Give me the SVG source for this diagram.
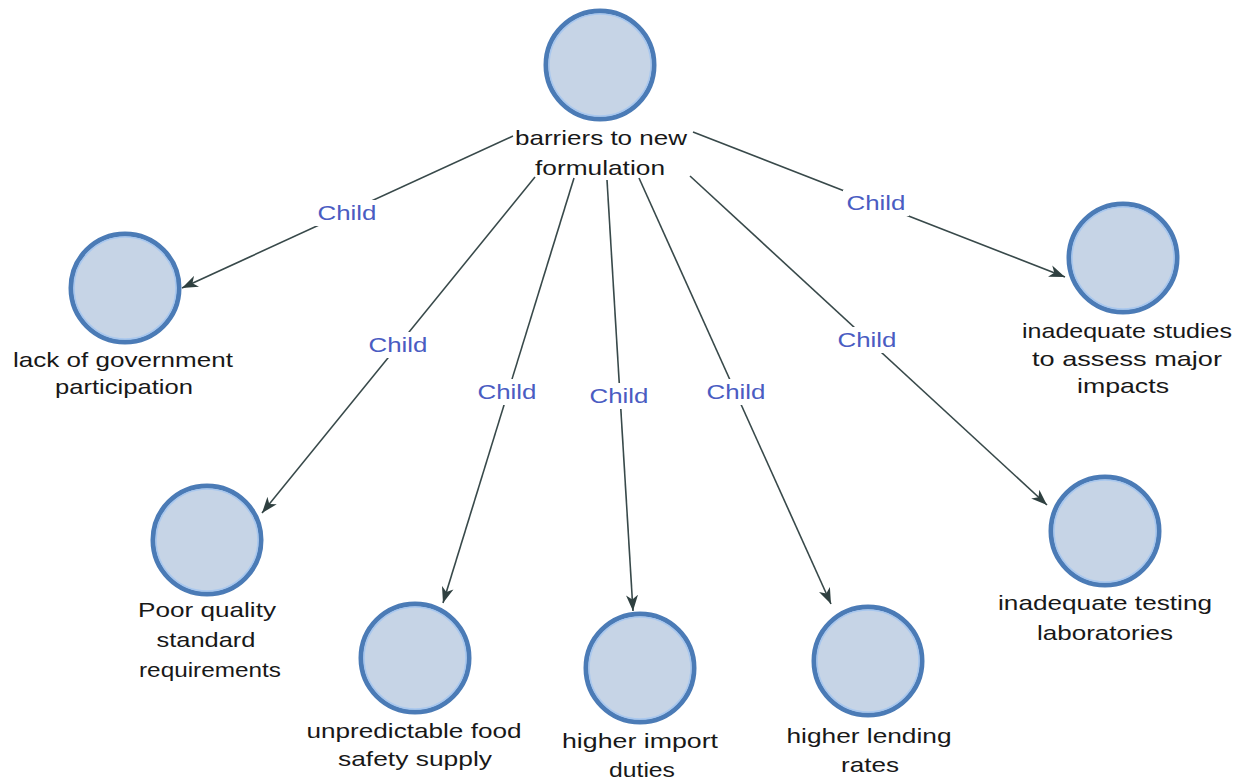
<svg xmlns="http://www.w3.org/2000/svg" width="1243" height="781" viewBox="0 0 1243 781">
  <style>
    .ring { fill: #c6d4e6; stroke: #4b7bb6; stroke-width: 5; }
    .inner { fill: none; stroke: #a8c7ee; stroke-width: 1.6; }
    .lbl { font-family: "Liberation Sans", Arial, sans-serif; font-size: 21px; fill: #181818; text-anchor: middle; }
    .edge { stroke: #38494a; stroke-width: 1.6; fill: none; marker-end: url(#arrow); }
    .tag { font-family: "Liberation Sans", Arial, sans-serif; font-size: 21px; fill: #4a5cc2; text-anchor: middle; }
    .tagbg { fill: #ffffff; }
  </style>
  <defs>
    <marker id="arrow" markerUnits="userSpaceOnUse" markerWidth="17" markerHeight="13" refX="16" refY="6.5" orient="auto">
      <path d="M0,0.5 L16,6.5 L0,12.5 L4.5,6.5 Z" fill="#2f4040"/>
    </marker>
  </defs>
  <rect width="1243" height="781" fill="#ffffff"/>

  <!-- connectors with their "Child" captions -->
  <g id="connectors">
    <line class="edge" x1="513" y1="136" x2="182" y2="288"/>
    <line class="edge" x1="693" y1="132" x2="1065" y2="277"/>
    <line class="edge" x1="535" y1="177" x2="262" y2="513"/>
    <line class="edge" x1="574" y1="178" x2="443" y2="603"/>
    <line class="edge" x1="607" y1="180" x2="633" y2="611"/>
    <line class="edge" x1="639" y1="178" x2="831" y2="604"/>
    <line class="edge" x1="690" y1="176" x2="1047" y2="505"/>

    <rect class="tagbg" x="314" y="200" width="66" height="26"/>
    <text class="tag" x="347" y="220" textLength="59" lengthAdjust="spacingAndGlyphs">Child</text>
    <rect class="tagbg" x="843" y="190" width="66" height="26"/>
    <text class="tag" x="876" y="210" textLength="59" lengthAdjust="spacingAndGlyphs">Child</text>
    <rect class="tagbg" x="365" y="332" width="66" height="26"/>
    <text class="tag" x="398" y="352" textLength="59" lengthAdjust="spacingAndGlyphs">Child</text>
    <rect class="tagbg" x="474" y="379" width="66" height="26"/>
    <text class="tag" x="507" y="399" textLength="59" lengthAdjust="spacingAndGlyphs">Child</text>
    <rect class="tagbg" x="586" y="383" width="66" height="26"/>
    <text class="tag" x="619" y="403" textLength="59" lengthAdjust="spacingAndGlyphs">Child</text>
    <rect class="tagbg" x="703" y="379" width="66" height="26"/>
    <text class="tag" x="736" y="399" textLength="59" lengthAdjust="spacingAndGlyphs">Child</text>
    <rect class="tagbg" x="834" y="327" width="66" height="26"/>
    <text class="tag" x="867" y="347" textLength="59" lengthAdjust="spacingAndGlyphs">Child</text>
  </g>

  <!-- nodes -->
  <g id="node-root">
    <circle class="ring" cx="600" cy="65" r="54"/>
    <circle class="inner" cx="600" cy="65" r="51"/>
    <text class="lbl" x="601" y="145" textLength="172" lengthAdjust="spacingAndGlyphs">barriers to new</text>
    <text class="lbl" x="600" y="175" textLength="130" lengthAdjust="spacingAndGlyphs">formulation</text>
  </g>
  <g id="node-government">
    <circle class="ring" cx="125" cy="288" r="54"/>
    <circle class="inner" cx="125" cy="288" r="51"/>
    <text class="lbl" x="123" y="367" textLength="220" lengthAdjust="spacingAndGlyphs">lack of government</text>
    <text class="lbl" x="124" y="394" textLength="138" lengthAdjust="spacingAndGlyphs">participation</text>
  </g>
  <g id="node-quality">
    <circle class="ring" cx="207" cy="540" r="54"/>
    <circle class="inner" cx="207" cy="540" r="51"/>
    <text class="lbl" x="207" y="617" textLength="138" lengthAdjust="spacingAndGlyphs">Poor quality</text>
    <text class="lbl" x="206" y="647" textLength="99" lengthAdjust="spacingAndGlyphs">standard</text>
    <text class="lbl" x="210" y="677" textLength="142" lengthAdjust="spacingAndGlyphs">requirements</text>
  </g>
  <g id="node-food">
    <circle class="ring" cx="415" cy="658" r="54"/>
    <circle class="inner" cx="415" cy="658" r="51"/>
    <text class="lbl" x="414" y="738" textLength="215" lengthAdjust="spacingAndGlyphs">unpredictable food</text>
    <text class="lbl" x="415" y="766" textLength="154" lengthAdjust="spacingAndGlyphs">safety supply</text>
  </g>
  <g id="node-import">
    <circle class="ring" cx="640" cy="668" r="54"/>
    <circle class="inner" cx="640" cy="668" r="51"/>
    <text class="lbl" x="640" y="748" textLength="156" lengthAdjust="spacingAndGlyphs">higher import</text>
    <text class="lbl" x="642" y="777" textLength="66" lengthAdjust="spacingAndGlyphs">duties</text>
  </g>
  <g id="node-lending">
    <circle class="ring" cx="868" cy="661" r="54"/>
    <circle class="inner" cx="868" cy="661" r="51"/>
    <text class="lbl" x="869" y="743" textLength="165" lengthAdjust="spacingAndGlyphs">higher lending</text>
    <text class="lbl" x="870" y="772" textLength="58" lengthAdjust="spacingAndGlyphs">rates</text>
  </g>
  <g id="node-studies">
    <circle class="ring" cx="1123" cy="258" r="54"/>
    <circle class="inner" cx="1123" cy="258" r="51"/>
    <text class="lbl" x="1127" y="338" textLength="210" lengthAdjust="spacingAndGlyphs">inadequate studies</text>
    <text class="lbl" x="1127" y="366" textLength="190" lengthAdjust="spacingAndGlyphs">to assess major</text>
    <text class="lbl" x="1123" y="393" textLength="92" lengthAdjust="spacingAndGlyphs">impacts</text>
  </g>
  <g id="node-testing">
    <circle class="ring" cx="1105" cy="531" r="54"/>
    <circle class="inner" cx="1105" cy="531" r="51"/>
    <text class="lbl" x="1105" y="610" textLength="214" lengthAdjust="spacingAndGlyphs">inadequate testing</text>
    <text class="lbl" x="1105" y="640" textLength="136" lengthAdjust="spacingAndGlyphs">laboratories</text>
  </g>
</svg>
